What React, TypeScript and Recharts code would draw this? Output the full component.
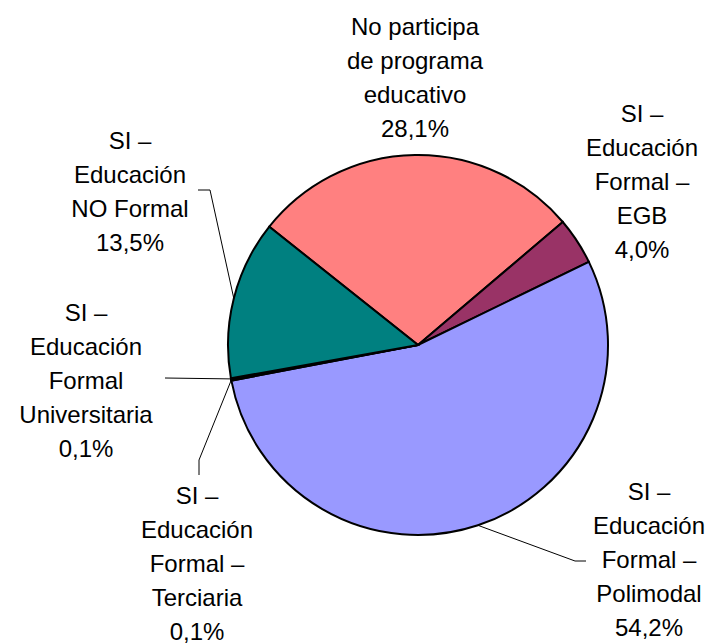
import { Cell, Pie, PieChart } from "recharts";

// clockwise from the top-left edge of the pink slice
const categories = [
    "No participa\nde programa\neducativo",
    "SI –\nEducación\nFormal –\nEGB",
    "SI –\nEducación\nFormal –\nPolimodal",
    "SI –\nEducación\nFormal –\nTerciaria",
    "SI –\nEducación\nFormal\nUniversitaria",
    "SI –\nEducación\nNO Formal",
];
const shares = [28.1, 4.0, 54.2, 0.1, 0.1, 13.5];

const colors = ["#FF8080", "#993366", "#9999FF", "#FFFFCC", "#CCFFFF", "#008080"];

// label placement relative to pie centre: text x, first line y, leader line bends
const labelLayout = [
    { tx: -3, ty: -319, line: [] as number[][] },
    { tx: 224, ty: -232, line: [] as number[][] },
    { tx: 231, ty: 146, line: [[157, 216], [168, 216]] },
    { tx: -221, ty: 150, line: [[-219, 115], [-219, 130]] },
    { tx: -332, ty: -33, line: [[-253, 33]] },
    { tx: -288, ty: -205, line: [[-208, -155], [-220, -155]] },
];

const data = categories.map((name, i) => ({ name, value: shares[i] }));

const RAD = Math.PI / 180;
const LINE_H = 34;

function PieLabel(props: any) {
    const { cx, cy, midAngle, outerRadius, index, name, value } = props;
    const lay = labelLayout[index];
    const lines = String(name).split("\n");
    lines.push(value.toFixed(1).replace(".", ",") + "%");
    const sx = cx + outerRadius * Math.cos(-midAngle * RAD);
    const sy = cy + outerRadius * Math.sin(-midAngle * RAD);
    const pts = lay.line.length
        ? [[sx, sy], ...lay.line.map(([dx, dy]) => [cx + dx, cy + dy])]
        : [];
    return (
        <g>
            {pts.length > 0 && (
                <polyline
                    points={pts.map((p) => p.join(",")).join(" ")}
                    fill="none"
                    stroke="#000"
                    strokeWidth={1}
                />
            )}
            <text
                x={cx + lay.tx}
                y={cy + lay.ty}
                textAnchor="middle"
                fill="#000"
                fontSize={24}
                fontFamily="'Liberation Sans', Arial, sans-serif"
            >
                {lines.map((t, k) => (
                    <tspan key={k} x={cx + lay.tx} y={cy + lay.ty + k * LINE_H} dominantBaseline="central">
                        {t}
                    </tspan>
                ))}
            </text>
        </g>
    );
}

export default function App() {
    return (
        <div style={{ position: "absolute", left: 0, top: 0, width: 720, height: 644, background: "#fff" }}>
            <PieChart width={720} height={644} margin={{ top: 0, right: 0, bottom: 0, left: 0 }}>
                <Pie
                    data={data}
                    dataKey="value"
                    nameKey="name"
                    cx={418}
                    cy={345}
                    outerRadius={190}
                    startAngle={141.5}
                    endAngle={141.5 - 360}
                    stroke="#000"
                    strokeWidth={2}
                    label={PieLabel}
                    labelLine={false}
                    isAnimationActive={false}
                >
                    {data.map((d, i) => (
                        <Cell key={d.name} fill={colors[i]} />
                    ))}
                </Pie>
            </PieChart>
        </div>
    );
}
